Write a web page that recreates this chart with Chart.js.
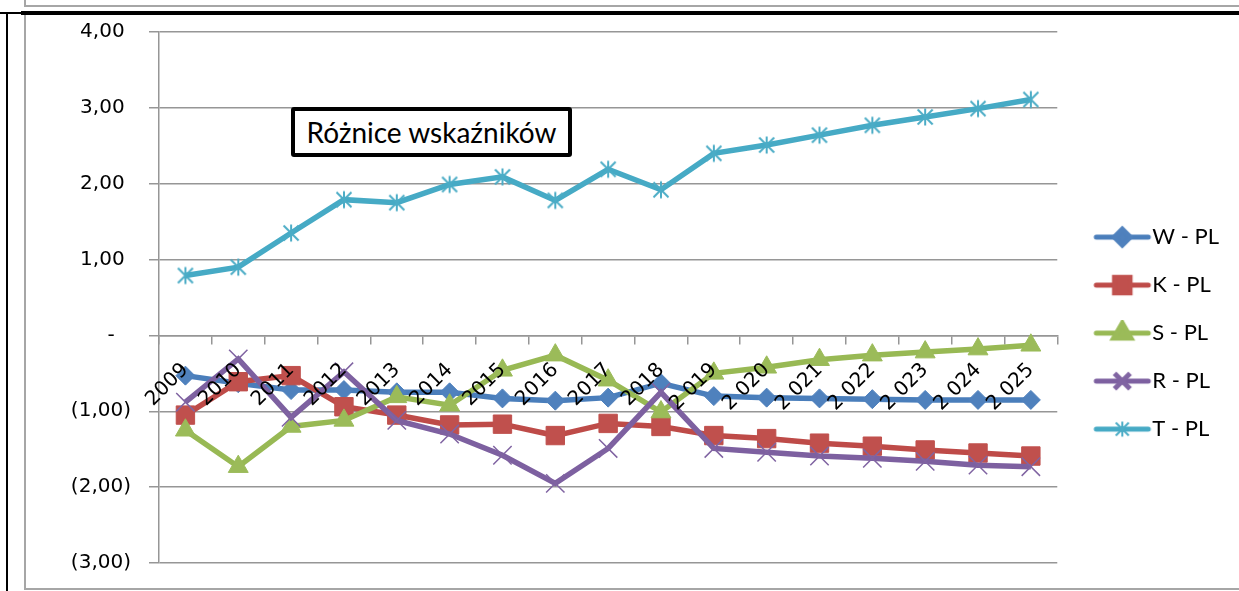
<!DOCTYPE html>
<html>
<head>
<meta charset="utf-8">
<script src="https://cdn.jsdelivr.net/npm/chart.js@4.4.0/dist/chart.umd.min.js"></script>
<style>
  html, body { margin: 0; padding: 0; background: #fff; }
  body { width: 1239px; height: 591px; position: relative; overflow: hidden; }
  .ln { position: absolute; }
  #chartBox { position: absolute; left: 26px; top: 17px; width: 1213px; height: 572px; }
  #title {
    position: absolute; left: 291px; top: 107px; width: 281px; height: 50px;
    box-sizing: border-box; border: 4px solid #000; border-radius: 3px; background: #fff;
    font: 28px Lato, sans-serif; color: #000;
    display: flex; align-items: center; justify-content: center;
  }
</style>
</head>
<body>
<!-- ramki strony -->
<div class="ln" style="left:24px;top:0;width:1215px;height:5px;border-left:2px solid #a6a6a6;border-bottom:2px solid #a6a6a6;"></div>
<div class="ln" style="left:0;top:12px;width:21px;height:2px;background:#000;"></div>
<div class="ln" style="left:21px;top:11px;width:1218px;height:4px;background:#000;"></div>
<div class="ln" style="left:6px;top:13px;width:2px;height:578px;background:#000;"></div>
<div class="ln" style="left:24px;top:15px;width:1215px;height:573px;border-left:2px solid #a6a6a6;border-bottom:2px solid #a6a6a6;"></div>

<div id="chartBox"><canvas id="chart" width="1213" height="572"></canvas></div>
<div id="title">Różnice wskaźników</div>

<script>
// Dane wykresu
const years = ['2009', '2010', '2011', '2012', '2013', '2014', '2015', '2016', '2017', '2018',
               '2 019', '2 020', '2 021', '2 022', '2 023', '2 024', '2 025'];

const wPL = [-0.53, -0.63, -0.72, -0.72, -0.75, -0.75, -0.83, -0.86, -0.82, -0.63, -0.80, -0.82, -0.83, -0.84, -0.85, -0.85, -0.85];
const kPL = [-1.05, -0.61, -0.53, -0.94, -1.05, -1.18, -1.17, -1.32, -1.16, -1.20, -1.32, -1.36, -1.42, -1.46, -1.51, -1.55, -1.59];
const sPL = [-1.25, -1.73, -1.20, -1.12, -0.81, -0.92, -0.46, -0.26, -0.59, -1.01, -0.50, -0.42, -0.32, -0.26, -0.22, -0.18, -0.13];
const rPL = [-0.88, -0.31, -1.08, -0.48, -1.12, -1.30, -1.58, -1.95, -1.49, -0.75, -1.49, -1.54, -1.59, -1.62, -1.66, -1.71, -1.73];
const tPL = [0.79, 0.90, 1.35, 1.79, 1.75, 1.99, 2.09, 1.78, 2.19, 1.92, 2.40, 2.51, 2.64, 2.77, 2.88, 2.99, 3.11];

const seriesNames = ['W - PL', 'K - PL', 'S - PL', 'R - PL', 'T - PL'];

const yMin = -3;
const yMax = 4;

// Kolory w stylu Excel 2007
const lineColors = ['#4A7EBB', '#BE4B48', '#98B954', '#7D60A0', '#46AAC5'];
const markColors = ['#4F81BD', '#C0504D', '#9BBB59', '#8064A2', '#4BACC6'];

// Marker "gwiazdka" jak w Excelu (X + pionowa kreska)
function makeStar(color, size) {
    const c = document.createElement('canvas');
    c.width = size; c.height = size;
    const g = c.getContext('2d');
    const m = 1.5, h = size / 2;
    g.strokeStyle = color;
    g.lineWidth = 2;
    g.beginPath();
    g.moveTo(h, m); g.lineTo(h, size - m);
    g.moveTo(m + 1, m + 1); g.lineTo(size - m - 1, size - m - 1);
    g.moveTo(size - m - 1, m + 1); g.lineTo(m + 1, size - m - 1);
    g.stroke();
    return c;
}

const starMark = makeStar(markColors[4], 20);
const starMarkSmall = makeStar(markColors[4], 18);

const pointStyles = ['rectRot', 'rect', 'triangle', 'crossRot', starMark];
const pointSizes = [9.5, 13, 11.5, 13, 10];

// Ikony legendy: linia + marker
function makeLegendIcon(i) {
    const c = document.createElement('canvas');
    c.width = 80; c.height = 26;
    const g = c.getContext('2d');
    const y = 13, x0 = 22, x1 = 78, cx = 50;
    g.strokeStyle = lineColors[i];
    g.lineWidth = 5;
    g.lineCap = 'round';
    g.beginPath(); g.moveTo(x0 + 2, y); g.lineTo(x1 - 2, y); g.stroke();
    g.lineCap = 'butt';
    if (i === 4) {
        g.drawImage(starMarkSmall, cx - 9, y - 9);
    } else {
        g.fillStyle = markColors[i];
        g.strokeStyle = markColors[i];
        Chart.helpers.drawPoint(g, {
            pointStyle: pointStyles[i],
            radius: [8, 11, 10, 11][i],
            rotation: 0,
            borderWidth: i === 3 ? 1.5 : 1
        }, cx, y);
    }
    return c;
}
const legendIcons = seriesNames.map((n, i) => makeLegendIcon(i));

// format księgowy: 1,00 / - / (1,00)
function fmtTick(v) {
    if (Math.abs(v) < 1e-9) return '- \u2002';
    const s = Math.abs(v).toFixed(2).replace('.', ',');
    return v < 0 ? '(' + s + ')' : s + ' ';
}

const seriesData = [wPL, kPL, sPL, rPL, tPL];

const datasets = seriesData.map((d, i) => ({
    label: seriesNames[i],
    data: d,
    borderColor: lineColors[i],
    backgroundColor: markColors[i],
    borderWidth: 5.5,
    tension: 0,
    pointStyle: pointStyles[i],
    pointRadius: pointSizes[i],
    pointBackgroundColor: markColors[i],
    pointBorderColor: markColors[i],
    pointBorderWidth: i === 3 ? 1.5 : 1,
    order: 5 - i
}));

const gridColor = '#969696';

new Chart(document.getElementById('chart'), {
    type: 'line',
    data: { labels: years, datasets: datasets },
    options: {
        responsive: false,
        animation: false,
        devicePixelRatio: 1,
        layout: { padding: { top: 15, bottom: 26, left: 0, right: 10 } },
        scales: {
            x: {
                type: 'category',
                position: { y: 0 },
                offset: true,
                grid: {
                    offset: true,
                    drawOnChartArea: false,
                    drawTicks: true,
                    tickLength: 8,
                    color: gridColor,
                    lineWidth: 1.5
                },
                border: { display: true, color: gridColor, width: 1.5 },
                ticks: {
                    z: 1, // etykiety lat nad liniami, jak w Excelu
                    autoSkip: false,
                    maxRotation: 45,
                    minRotation: 45,
                    padding: 15,
                    color: '#000',
                    font: { family: 'DejaVu Sans', size: 20 }
                }
            },
            y: {
                min: yMin,
                max: yMax,
                afterFit: s => {
                    s.width = 133;
                    s.paddingTop = 12;
                    s.paddingBottom = 12;
                },
                grid: { color: gridColor, lineWidth: 1.5, tickLength: 10, drawTicks: true },
                border: { color: gridColor, width: 1.5 },
                ticks: {
                    stepSize: 1,
                    padding: 18,
                    color: '#000',
                    font: { family: 'DejaVu Sans', size: 20 },
                    callback: v => fmtTick(v)
                }
            }
        },
        plugins: {
            tooltip: { enabled: false },
            legend: {
                position: 'right',
                align: 'center',
                title: { display: true, text: ' ', font: { size: 1 }, padding: { top: 70, bottom: 0 } },
                labels: {
                    usePointStyle: true,
                    pointStyleWidth: 58,
                    padding: 26,
                    color: '#000',
                    font: { family: 'Lato', size: 22 },
                    generateLabels: chart => Chart.defaults.plugins.legend.labels.generateLabels(chart)
                        .map(l => Object.assign(l, { pointStyle: legendIcons[l.datasetIndex] })),
                    sort: (a, b) => a.datasetIndex - b.datasetIndex
                }
            }
        }
    }
});
</script>
</body>
</html>
